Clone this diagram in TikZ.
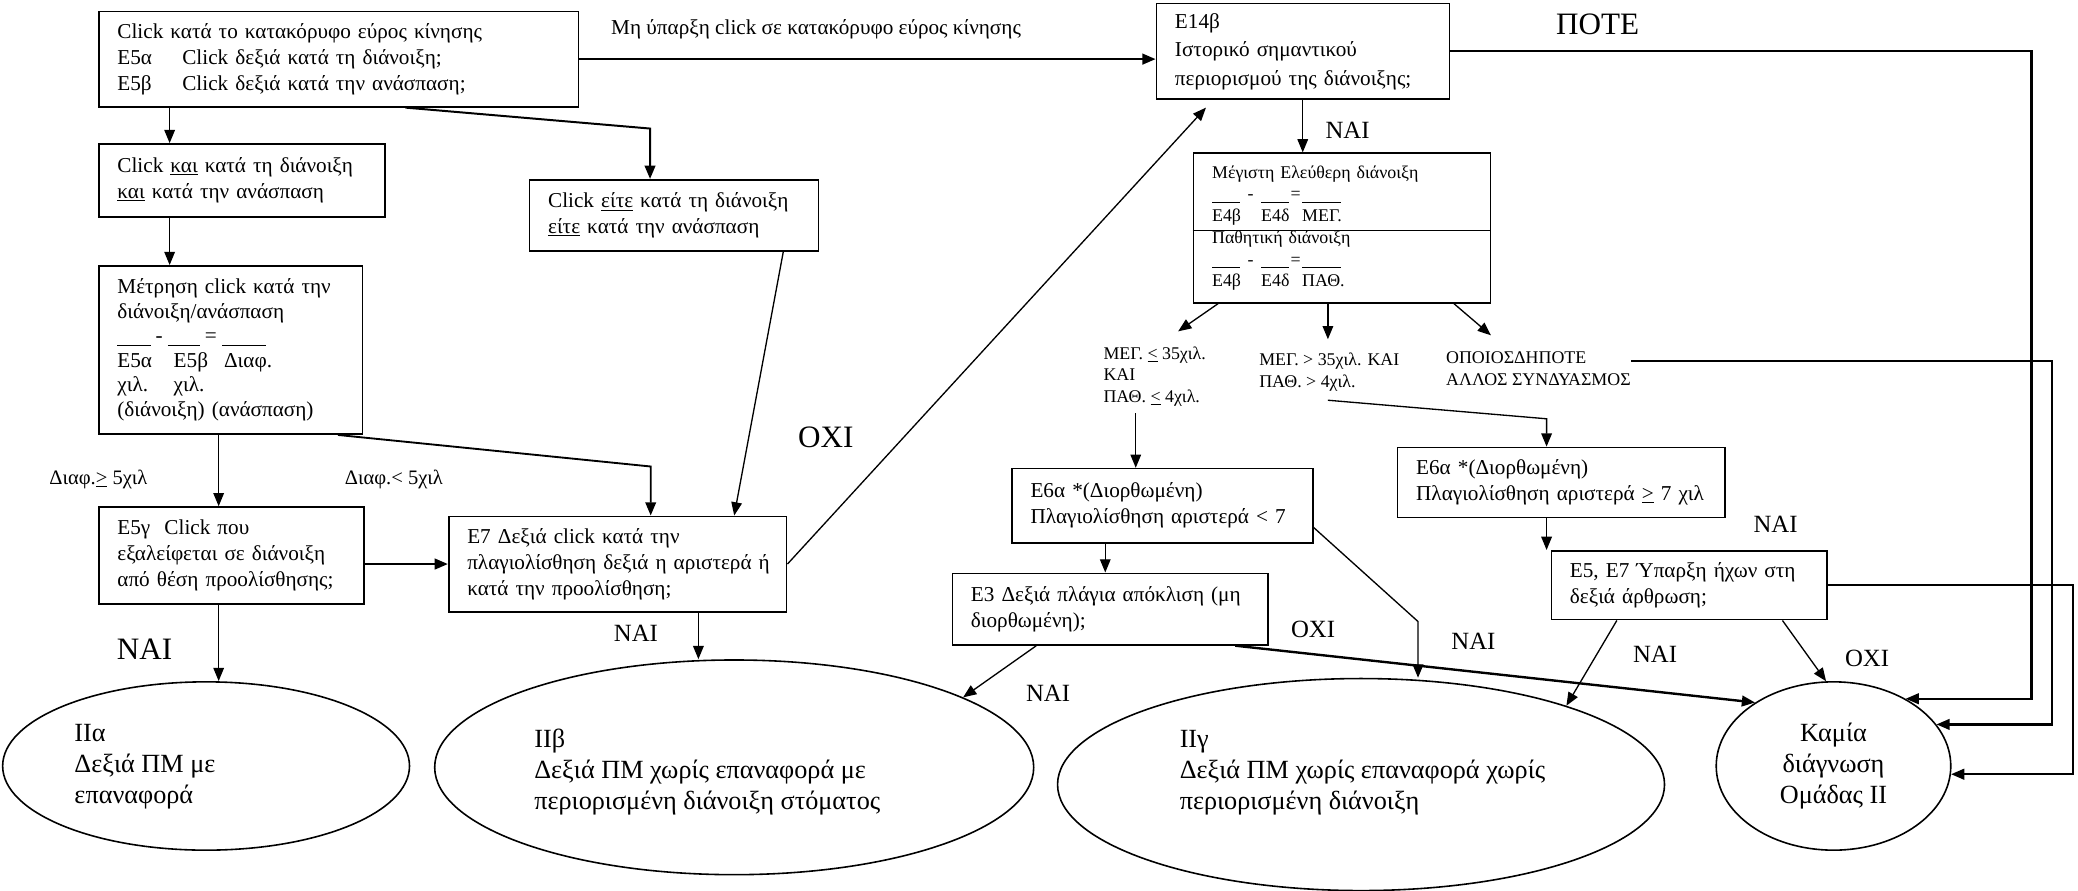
\documentclass[tikz,border=0pt]{standalone}
\usepackage{fontspec}
\setmainfont{Liberation Serif}
\usetikzlibrary{arrows.meta,shapes.geometric,calc}
\newcommand\fmain{\fontsize{16}{19.5}\selectfont}
\newcommand\fmainw{\fontsize{16}{21.5}\selectfont}
\newcommand\fmainn{\fontsize{16}{18.5}\selectfont}
\newcommand\fsmall{\fontsize{13.5}{16.4}\selectfont}
\newcommand\fdiaf{\fontsize{15.5}{18}\selectfont}
\newcommand\fell{\fontsize{19.8}{23.5}\selectfont}
\newcommand\fbig{\fontsize{23.5}{28}\selectfont}
\newcommand\fmed{\fontsize{18.7}{22}\selectfont}
\newcommand\tlines[1]{\begin{tabular}{@{}l@{}}#1\end{tabular}}
\begin{document}
\begin{tikzpicture}[x=1pt,y=-1pt,
  box/.style={draw, line width=1.2pt, anchor=north west, inner xsep=14pt, inner ysep=0pt, align=left, font=\fmain},
  ell/.style={draw, ellipse, line width=1.2pt, inner sep=0pt},
  etxt/.style={anchor=west, align=left, inner sep=0pt, font=\fell},
  lbl/.style={anchor=west, align=left, inner sep=0pt},
  arr/.style={line width=1pt, -{Triangle[length=10pt,width=8pt]}},
  arrT/.style={line width=1.8pt, -{Triangle[length=10pt,width=8pt]}}]
\useasboundingbox (0,0) rectangle (1568,672);

% boxes
\node[box, text width=334pt, minimum height=72pt] (b1) at (74,8) {\tlines{Click κατά το κατακόρυφο εύρος κίνησης\\
\makebox[49pt][l]{Ε5α}Click δεξιά κατά τη διάνοιξη;\\
\makebox[49pt][l]{Ε5β}Click δεξιά κατά την ανάσπαση;}};
\node[box, font=\fmainw, text width=193pt, minimum height=72pt] (b14) at (872,2) {\tlines{Ε14β\\Ιστορικό σημαντικού\\περιορισμού της διάνοιξης;}};
\node[box, text width=188pt, minimum height=55pt] (b2) at (74,108) {\tlines{Click \underline{και} κατά τη διάνοιξη\\\underline{και} κατά την ανάσπαση}};
\node[box, text width=190pt, minimum height=54pt] (beite) at (399,135) {\tlines{Click \underline{είτε} κατά τη διάνοιξη\\\underline{είτε} κατά την ανάσπαση}};
\node[box, font=\fmainn, text width=171pt, minimum height=127pt] (b3) at (74,200) {\tlines{Μέτρηση click κατά την\\
διάνοιξη/ανάσπαση\\
\rule[-2pt]{25pt}{0.6pt}\makebox[13pt]{-}\rule[-2pt]{24pt}{0.6pt}\makebox[17pt]{=}\rule[-2pt]{33pt}{0.6pt}\\
\makebox[42.5pt][l]{Ε5α}\makebox[38pt][l]{Ε5β}Διαφ.\\
\makebox[42.5pt][l]{χιλ.}χιλ.\\
(διάνοιξη) (ανάσπαση)}};
\node[box, text width=172pt, minimum height=73pt] (b5g) at (74,382) {\tlines{Ε5γ\ \ Click που\\εξαλείφεται σε διάνοιξη\\από θέση προολίσθησης;}};
\node[box, text width=227pt, minimum height=72pt] (b7) at (338,389) {\tlines{Ε7 Δεξιά click κατά την\\πλαγιολίσθηση δεξιά η αριστερά ή\\κατά την προολίσθηση;}};
\node[box, font=\fsmall, text width=196pt, minimum height=113pt] (bmeg) at (900,115) {\tlines{Μέγιστη Ελεύθερη διάνοιξη\\
\rule[-2pt]{21pt}{0.6pt}\makebox[16pt]{-}\rule[-2pt]{21pt}{0.6pt}\makebox[10pt]{=}\rule[-2pt]{29pt}{0.6pt}\\
\makebox[37pt][l]{Ε4β}\makebox[31pt][l]{Ε4δ}ΜΕΓ.\\
Παθητική διάνοιξη\\
\rule[-2pt]{21pt}{0.6pt}\makebox[16pt]{-}\rule[-2pt]{21pt}{0.6pt}\makebox[10pt]{=}\rule[-2pt]{29pt}{0.6pt}\\
\makebox[37pt][l]{Ε4β}\makebox[31pt][l]{Ε4δ}ΠΑΘ.}};
\draw[line width=1.2pt] ([yshift=-59pt]bmeg.north west) -- ([yshift=-59pt]bmeg.north east);
\node[box, text width=199pt, minimum height=56pt] (b6a) at (763,353) {\tlines{Ε6α *(Διορθωμένη)\\Πλαγιολίσθηση αριστερά < 7}};
\node[box, text width=210pt, minimum height=54pt] (b3e) at (718,432) {\tlines{Ε3 Δεξιά πλάγια απόκλιση (μη\\διορθωμένη);}};
\node[box, text width=219pt, minimum height=53pt] (b6b) at (1054,337) {\tlines{Ε6α *(Διορθωμένη)\\Πλαγιολίσθηση αριστερά \underline{>} 7 χιλ}};
\node[box, text width=180pt, minimum height=52pt] (b57) at (1170,415) {\tlines{Ε5, Ε7 Ύπαρξη ήχων στη\\δεξιά άρθρωση;}};

% ellipses
\node[ell, minimum width=307pt, minimum height=127pt] (IIa) at (155.5,578) {};
\node[ell, minimum width=452pt, minimum height=162pt] (IIb) at (554,579) {};
\node[ell, minimum width=458pt, minimum height=160pt] (IIg) at (1027,592) {};
\node[ell, minimum width=177pt, minimum height=127pt, align=center, font=\fell] (Kam) at (1383.5,578) {Καμία\\διάγνωση\\Ομάδας ΙΙ};
\node[etxt] (IIat) at (56,578.5) {ΙΙα\\Δεξιά ΠΜ με\\επαναφορά};
\node[etxt] (IIbt) at (403,582.5) {ΙΙβ\\Δεξιά ΠΜ χωρίς επαναφορά με\\περιορισμένη διάνοιξη στόματος};
\node[etxt] (IIgt) at (890,583) {ΙΙγ\\Δεξιά ΠΜ χωρίς επαναφορά χωρίς\\περιορισμένη διάνοιξη};

% labels
\node[lbl, font=\fmain] (lmh) at (461,22) {Μη ύπαρξη click σε κατακόρυφο εύρος κίνησης};
\node[lbl, font=\fbig] (lpote) at (1174,18) {ΠΟΤΕ};
\node[lbl, font=\fmed] (lnai1) at (1000,98) {ΝΑΙ};
\node[lbl, font=\fsmall] (lmeg1) at (832.5,284) {ΜΕΓ. \underline{<} 35χιλ.\\ΚΑΙ\\ΠΑΘ. \underline{<} 4χιλ.};
\node[lbl, font=\fsmall] (lmeg2) at (950,281) {ΜΕΓ. > 35χιλ. ΚΑΙ\\ΠΑΘ. > 4χιλ.};
\node[lbl, font=\fsmall] (lopo) at (1091,278) {ΟΠΟΙΟΣΔΗΠΟΤΕ\\ΑΛΛΟΣ ΣΥΝΔΥΑΣΜΟΣ};
\node[lbl, font=\fdiaf] (ld1) at (37,362) {Διαφ.\underline{>} 5χιλ};
\node[lbl, font=\fdiaf] (ld2) at (260,362) {Διαφ.< 5χιλ};
\node[lbl, font=\fbig] (loxi1) at (602,330) {ΟΧΙ};
\node[lbl, font=\fbig] (lnai2) at (88,490) {ΝΑΙ};
\node[lbl, font=\fmed] (lnai3) at (463,478) {ΝΑΙ};
\node[lbl, font=\fmed] (lnai4) at (774,523) {ΝΑΙ};
\node[lbl, font=\fmed] (loxi2) at (974,475) {ΟΧΙ};
\node[lbl, font=\fmed] (lnai5) at (1095,484) {ΝΑΙ};
\node[lbl, font=\fmed] (lnai6) at (1323,396) {ΝΑΙ};
\node[lbl, font=\fmed] (lnai7) at (1232,494) {ΝΑΙ};
\node[lbl, font=\fmed] (loxi3) at (1392,497) {ΟΧΙ};

% coordinates
\coordinate (c1) at (490.5,97);
\coordinate (c2) at (491,352);
\coordinate (c3) at (1070,469);
\coordinate (p1) at ([xshift=91pt]b5g.south west);
\coordinate (p2) at ([xshift=189pt]b7.south west);
\coordinate (p3) at ([xshift=111pt]b14.south west);
\coordinate (p4) at ([xshift=71pt]b6a.south west);
\coordinate (m1) at (889,250);
\coordinate (m2) at (1002,256);
\coordinate (m3) at (1125,253);
\coordinate (m4) at (857,312);
\coordinate (m5) at (1002,302);
\coordinate (m6) at (1167,316);
\coordinate (r1) at (1533,0);
\coordinate (r2) at (1548.5,0);
\coordinate (r3) at (1564,0);

% connectors
\draw[arrT] (b1.east) -- (b1.east -| b14.west);
\draw[arr] ([xshift=54pt]b1.south west) -- ([xshift=54pt]b2.north west);
\draw[arr, line width=1.5pt] ([xshift=232pt]b1.south west) -- (c1) -- (c1 |- beite.north);
\draw[arr] ([xshift=54pt]b2.south west) -- ([xshift=54pt]b3.north west);
\draw[arr] ([xshift=91pt]b3.south west) -- ([xshift=91pt]b5g.north west);
\draw[arr, line width=1.4pt] ([xshift=181pt]b3.south west) -- (c2) -- (c2 |- b7.north);
\draw[arr] ([xshift=192pt]beite.south west) -- ([xshift=216pt]b7.north west);
\draw[arrT] (b7.west -| b5g.east) -- (b7.west);
\draw[arr] (b7.east) -- ([xshift=38pt,yshift=-6pt]b14.south west);
\draw[arr] (p1) -- (p1 |- IIa.north);
\draw[arr] (p2) -- (p2 |- IIb.north);
\draw[arr] (p3) -- (p3 |- bmeg.north);
\draw[arr] ([xshift=19pt]bmeg.south west) -- (m1);
\draw[arr] (m2 |- bmeg.south) -- (m2);
\draw[arr] ([xshift=-28pt]bmeg.south east) -- (m3);
\draw[arr] (m4) -- (m4 |- b6a.north);
\draw[arr] (m5) -- (m6) -- (m6 |- b6b.north);
\draw[arr] (p4) -- (p4 |- b3e.north);
\draw[arr] ([yshift=-45pt]b6a.north east) -- (c3) -- (c3 |- IIg.north);
\draw[arr] ([xshift=64pt]b3e.south west) -- (IIb.17.5);
\draw[arrT] ([xshift=214pt]b3e.south west) -- (Kam.141);
\draw[arr] ([xshift=113pt]b6b.south west) -- ([xshift=113pt]b6b.south west |- b57.north);
\draw[arr] ([xshift=50pt]b57.south west) -- (IIg.21);
\draw[arr] ([xshift=175pt]b57.south west) -- (Kam.95);
\draw[arrT] (b14.east) -| (r1 |- Kam.43.5) -- (Kam.43.5);
\draw[arrT] ([yshift=5.5pt]lopo.east) -| (r2 |- Kam.22.5) -- (Kam.22.5);
\draw[arrT] (b57.east) -| (r3 |- Kam.-4) -- (Kam.-4);
\end{tikzpicture}
\end{document}
